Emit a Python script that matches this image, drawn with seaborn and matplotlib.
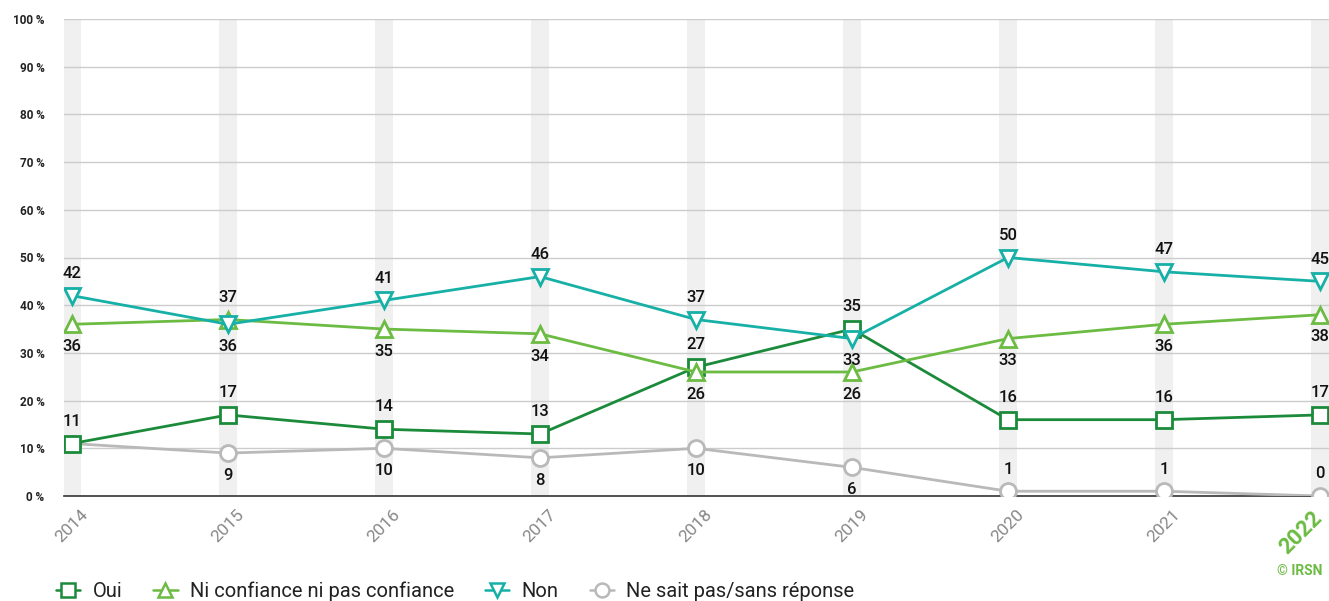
import matplotlib
matplotlib.use("Agg")
import matplotlib.pyplot as plt
import matplotlib.transforms as mtransforms
import seaborn as sns
import pandas as pd
import numpy as np
from matplotlib.lines import Line2D

years = [2014, 2015, 2016, 2017, 2018, 2019, 2020, 2021, 2022]
oui = [11, 17, 14, 13, 27, 35, 16, 16, 17]
ni = [36, 37, 35, 34, 26, 26, 33, 36, 38]
non = [42, 36, 41, 46, 37, 33, 50, 47, 45]
nsp = [11, 9, 10, 8, 10, 6, 1, 1, 0]
series_names = ["Oui", "Ni confiance ni pas confiance", "Non", "Ne sait pas/sans réponse"]
y_ticks = [0, 10, 20, 30, 40, 50, 60, 70, 80, 90, 100]

# label placement: +1 above, -1 below, 0 hidden
pos_oui = [1, 1, 1, 1, 1, 1, 1, 1, 1]
pos_ni = [-1, 1, -1, -1, -1, -1, -1, -1, -1]
pos_non = [1, -1, 1, 1, 1, -1, 1, 1, 1]
pos_nsp = [0, -1, -1, -1, -1, -1, 1, 1, 1]

colors = ["#1b8b3b", "#6cbb43", "#17b0a7", "#b9b9b9"]
markers = ["s", "^", "v", "o"]

sns.set_theme(style="white")
plt.rcParams["font.family"] = ["Roboto", "DejaVu Sans"]

df = pd.DataFrame({"year": years * 4,
                   "value": oui + ni + non + nsp,
                   "serie": sum([[n] * len(years) for n in series_names], [])})

fig = plt.figure(figsize=(13.29, 6.01), dpi=100)
ax = fig.add_axes([64 / 1329, 1 - 496 / 601, (1329 - 64) / 1329, (496 - 19) / 601])

# background bands
for yr in years:
    ax.axvspan(yr - 0.055, yr + 0.055, color="#f0f0f0", zorder=0, lw=0)
for t in y_ticks[1:]:
    ax.axhline(t, color="#cccccc", lw=1, zorder=1)

sns.lineplot(data=df, x="year", y="value", hue="serie", style="serie",
             palette=dict(zip(series_names, colors)),
             markers=dict(zip(series_names, markers)), dashes=False,
             markersize=11.5, markeredgewidth=2, markerfacecolor="white",
             linewidth=2, legend=False, ax=ax, zorder=3)
lines = ax.get_lines()[-4:]
for line, c in zip(lines, colors):
    line.set_markeredgecolor(c)
    line.set_markerfacecolor("white")
lines[3].set_zorder(2.5)

for vals, poss in [(oui, pos_oui), (ni, pos_ni), (non, pos_non), (nsp, pos_nsp)]:
    for x, v, p in zip(years, vals, poss):
        if p == 0:
            continue
        off = 16 if p > 0 else -16
        ax.annotate(str(v), (x, v), xytext=(0, off), textcoords="offset points",
                    ha="center", va="center", fontsize=12, color="#111111",
                    fontweight="medium", zorder=5)

ax.set_xlim(2014 - 8 / 156, 2022 + 9 / 156)
ax.set_ylim(0, 100)
ax.set_yticks(y_ticks)
ax.set_yticklabels([f"{t} %" for t in y_ticks], fontsize=8.5, fontweight="bold", color="#222222")
ax.set_xticks(years)
ax.set_xticklabels([str(y) for y in years], rotation=45, ha="center", va="top",
                   fontsize=12.5, color="#888888")
ax.tick_params(axis="x", length=0, pad=8)
ax.tick_params(axis="y", length=0, pad=14)
fig.canvas.draw()
lab = ax.get_xticklabels()[-1]
lab.set_color("#6cbb43")
lab.set_fontweight("bold")
lab.set_fontsize(16)
lab.set_horizontalalignment("right")
lab.set_transform(lab.get_transform() + mtransforms.ScaledTranslation(7 / 100, 0, fig.dpi_scale_trans))
for s in ["top", "right", "left"]:
    ax.spines[s].set_visible(False)
ax.spines["bottom"].set_color("#333333")
ax.spines["bottom"].set_linewidth(1.2)
ax.spines["bottom"].set_zorder(2)
ax.set_xlabel("")
ax.set_ylabel("")

handles = [Line2D([], [], color=c, marker=m, markersize=10, markeredgewidth=1.8,
                  markerfacecolor="white", lw=1.8) for c, m in zip(colors, markers)]
fig.legend(handles, series_names, loc="lower left", bbox_to_anchor=(38 / 1329, -0.03),
           ncol=4, frameon=False, fontsize=14.5, handlelength=1.2, handletextpad=0.6,
           columnspacing=1.55, labelcolor="#222222")

fig.text(1322 / 1329, 1 - 571 / 601, "© IRSN", ha="right", va="center",
         color="#6cbb43", fontsize=10, fontweight="bold")

fig.savefig("out.png", dpi=100)
